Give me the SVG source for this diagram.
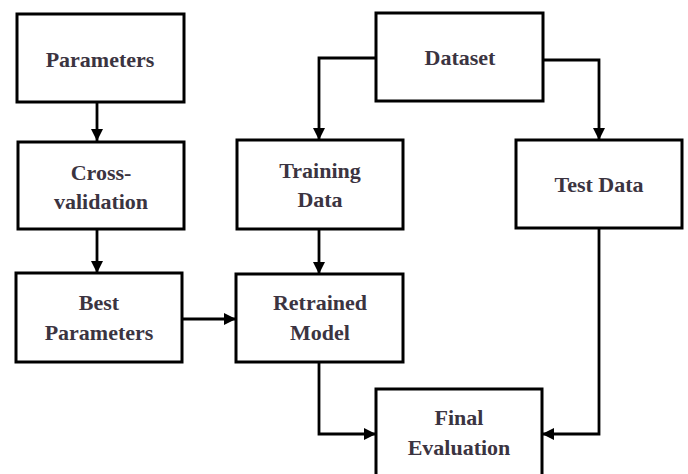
<svg xmlns="http://www.w3.org/2000/svg" width="688" height="474" viewBox="0 0 688 474">
<defs>
<marker id="ah" viewBox="0 0 10 10" refX="10" refY="5" markerWidth="4.4" markerHeight="4.6" orient="auto" markerUnits="strokeWidth">
<path d="M0,0 L10,5 L0,10 Z" fill="#000"/>
</marker>
</defs>
<style>
.box{fill:#fff;stroke:#000;stroke-width:3}
.lbl{font-family:"Liberation Serif","DejaVu Serif",serif;font-weight:bold;font-size:22px;fill:#3b3441;text-anchor:middle}
.con{fill:none;stroke:#000;stroke-width:2.8;marker-end:url(#ah)}
</style>
<rect width="688" height="474" fill="#fff"/>
<g id="connectors">
<path class="con" d="M97,102 V141"/>
<path class="con" d="M97,229 V273"/>
<path class="con" d="M376,58 H319 V140"/>
<path class="con" d="M543,60 H599 V140"/>
<path class="con" d="M319,229 V274"/>
<path class="con" d="M182,319 H236"/>
<path class="con" d="M319,362 V434 H376"/>
<path class="con" d="M599,228 V434 H542"/>
</g>
<g id="parameters"><rect class="box" x="17" y="14" width="167" height="88"/><text class="lbl" x="100" y="67">Parameters</text></g>
<g id="cross-validation"><rect class="box" x="18" y="142" width="166" height="87"/><text class="lbl" x="101" y="180">Cross-</text><text class="lbl" x="101" y="209">validation</text></g>
<g id="dataset"><rect class="box" x="376" y="13" width="167" height="88"/><text class="lbl" x="460" y="65">Dataset</text></g>
<g id="training-data"><rect class="box" x="237" y="140" width="166" height="89"/><text class="lbl" x="320" y="178">Training</text><text class="lbl" x="320" y="207">Data</text></g>
<g id="test-data"><rect class="box" x="516" y="140" width="166" height="88"/><text class="lbl" x="599" y="192">Test Data</text></g>
<g id="best-parameters"><rect class="box" x="16" y="273" width="166" height="89"/><text class="lbl" x="99" y="310">Best</text><text class="lbl" x="99" y="340">Parameters</text></g>
<g id="retrained-model"><rect class="box" x="236" y="274" width="167" height="88"/><text class="lbl" x="320" y="310">Retrained</text><text class="lbl" x="320" y="340">Model</text></g>
<g id="final-evaluation"><rect class="box" x="376" y="389" width="166" height="95"/><text class="lbl" x="459" y="425">Final</text><text class="lbl" x="459" y="455">Evaluation</text></g>
</svg>
